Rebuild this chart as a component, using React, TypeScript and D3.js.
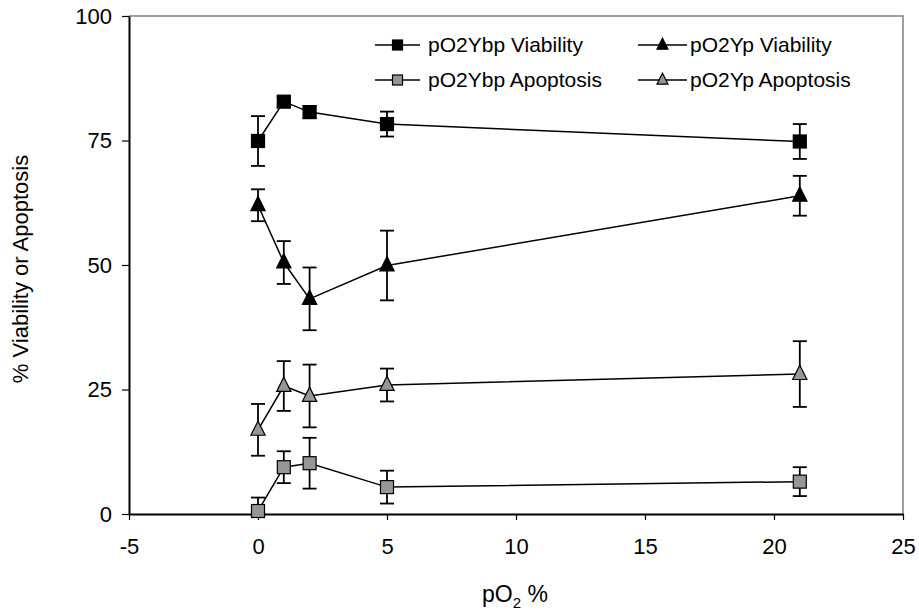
import { useEffect, useRef } from 'react';
import * as d3 from 'd3';

// pO2 levels (%)
const po2 = [0, 1, 2, 5, 21];

const ybpViability = [74.9, 82.8, 80.7, 78.3, 74.8];
const ybpViabilityErr = [5.0, 1.0, 1.2, 2.5, 3.5];
const ypViability = [62.0, 50.5, 43.2, 49.9, 63.9];
const ypViabilityErr = [3.2, 4.3, 6.3, 7.0, 4.0];
const ybpApoptosis = [0.6, 9.4, 10.2, 5.4, 6.5];
const ybpApoptosisErr = [2.7, 3.2, 5.1, 3.3, 2.9];
const ypApoptosis = [16.9, 25.7, 23.7, 25.9, 28.1];
const ypApoptosisErr = [5.2, 5.0, 6.3, 3.3, 6.6];

const xTicks = [-5, 0, 5, 10, 15, 20, 25];
const yTicks = [0, 25, 50, 75, 100];

const series = [
    { name: 'pO2Ybp Viability', values: ybpViability, err: ybpViabilityErr, shape: 'square', fill: '#000000' },
    { name: 'pO2Yp Viability', values: ypViability, err: ypViabilityErr, shape: 'triangle', fill: '#000000' },
    { name: 'pO2Ybp Apoptosis', values: ybpApoptosis, err: ybpApoptosisErr, shape: 'square', fill: '#969696' },
    { name: 'pO2Yp Apoptosis', values: ypApoptosis, err: ypApoptosisErr, shape: 'triangle', fill: '#969696' },
];

export default function App() {
    const ref = useRef<HTMLDivElement>(null);

    useEffect(() => {
        const width = 919;
        const height = 611;
        const font = '"Liberation Sans", Arial, sans-serif';

        const container = d3.select(ref.current);
        container.selectAll('*').remove();

        const svg = container
            .append('svg')
            .attr('width', width)
            .attr('height', height)
            .style('display', 'block')
            .style('font-family', font);

        svg.append('rect').attr('width', width).attr('height', height).attr('fill', '#fff');

        const x = d3.scaleLinear().domain([-5, 25]).range([129, 903]);
        const y = d3.scaleLinear().domain([0, 100]).range([514, 16]);

        // plot frame (top and right, grey)
        svg.append('path')
            .attr('d', `M${x(-5)},${y(100)}H${x(25)}V${y(0)}`)
            .attr('fill', 'none')
            .attr('stroke', '#808080')
            .attr('stroke-width', 1.5);

        // axes
        const xAxis = svg.append('g')
            .attr('transform', `translate(0,${y(0)})`)
            .call(d3.axisBottom(x).tickValues(xTicks).tickFormat(d => String(d))
                .tickSize(6).tickPadding(18).tickSizeOuter(0));
        const yAxis = svg.append('g')
            .attr('transform', `translate(${x(-5)},0)`)
            .call(d3.axisLeft(y).tickValues(yTicks).tickFormat(d => String(d))
                .tickSize(7).tickPadding(10).tickSizeOuter(0));

        [xAxis, yAxis].forEach(g => {
            g.select('.domain').attr('stroke', '#000').attr('stroke-width', 2);
            g.selectAll('.tick line').attr('stroke', '#000').attr('stroke-width', 1.2);
            g.selectAll('.tick text')
                .attr('fill', '#000')
                .style('font-size', '22px')
                .style('font-family', font);
        });

        // axis titles
        const xt = svg.append('text')
            .attr('x', 515)
            .attr('y', 602)
            .attr('text-anchor', 'middle')
            .style('font-size', '23px');
        xt.append('tspan').text('pO');
        xt.append('tspan').attr('dy', 6).style('font-size', '15px').text('2');
        xt.append('tspan').attr('dy', -6).text(' %');

        svg.append('text')
            .attr('transform', `translate(28,269) rotate(-90)`)
            .attr('text-anchor', 'middle')
            .style('font-size', '22px')
            .text('% Viability or Apoptosis');

        const marker = (g: any, shape: string, fill: string, size: number) => {
            if (shape === 'square') {
                g.append('rect')
                    .attr('x', -size / 2).attr('y', -size / 2)
                    .attr('width', size).attr('height', size)
                    .attr('fill', fill).attr('stroke', '#000').attr('stroke-width', 1.2);
            } else {
                const s = size * 1.1;
                g.append('path')
                    .attr('d', `M0,${-s * 0.62}L${s / 2},${s * 0.38}L${-s / 2},${s * 0.38}Z`)
                    .attr('fill', fill).attr('stroke', '#000').attr('stroke-width', 1.2);
            }
        };

        const line = d3.line<number>()
            .x((_, i) => x(po2[i]))
            .y(d => y(d));

        series.forEach(s => {
            const g = svg.append('g');
            // error bars
            s.values.forEach((v, i) => {
                const cx = x(po2[i]);
                const hi = y(v + s.err[i]);
                const lo = y(Math.max(0, v - s.err[i]));
                g.append('line').attr('x1', cx).attr('x2', cx).attr('y1', hi).attr('y2', lo)
                    .attr('stroke', '#000').attr('stroke-width', 1.8);
                g.append('line').attr('x1', cx - 7).attr('x2', cx + 7).attr('y1', hi).attr('y2', hi)
                    .attr('stroke', '#000').attr('stroke-width', 1.8);
                if (v - s.err[i] > 0) {
                    g.append('line').attr('x1', cx - 7).attr('x2', cx + 7).attr('y1', lo).attr('y2', lo)
                        .attr('stroke', '#000').attr('stroke-width', 1.8);
                }
            });
            g.append('path')
                .datum(s.values)
                .attr('fill', 'none')
                .attr('stroke', '#000')
                .attr('stroke-width', 1.5)
                .attr('d', line);
            s.values.forEach((v, i) => {
                const mg = g.append('g').attr('transform', `translate(${x(po2[i])},${y(v)})`);
                marker(mg, s.shape, s.fill, 13);
            });
        });

        // legend
        const legendPos = [
            { lx: 375, ly: 45, len: 45, tx: 53 },
            { lx: 638, ly: 45, len: 49, tx: 52 },
            { lx: 375, ly: 80, len: 45, tx: 53 },
            { lx: 638, ly: 80, len: 49, tx: 52 },
        ];
        series.forEach((s, i) => {
            const { lx, ly, len, tx } = legendPos[i];
            const lg = svg.append('g').attr('transform', `translate(${lx},${ly})`);
            lg.append('line').attr('x1', 0).attr('x2', len).attr('y1', 0).attr('y2', 0)
                .attr('stroke', '#000').attr('stroke-width', 1.5);
            const mg = lg.append('g').attr('transform', `translate(${len / 2},0)`);
            marker(mg, s.shape, s.fill, 10);
            lg.append('text')
                .attr('x', tx)
                .attr('y', 7)
                .style('font-size', '21px')
                .text(s.name);
        });
    }, []);

    return <div ref={ref} style={{ position: 'fixed', left: 0, top: 0 }} />;
}
